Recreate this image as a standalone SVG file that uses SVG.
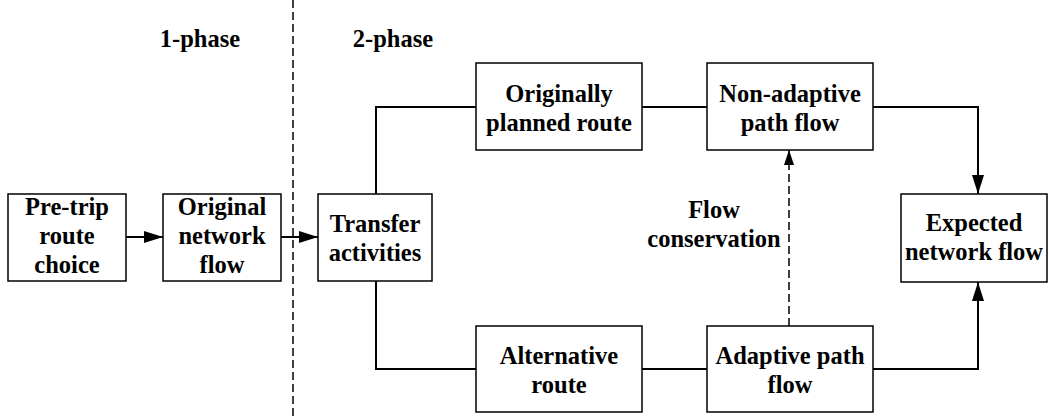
<svg xmlns="http://www.w3.org/2000/svg" width="1049" height="416" viewBox="0 0 1049 416">
<defs>
<style>
.box{fill:#fff;stroke:#000;stroke-width:1.5}
.t{font-family:"Liberation Serif","Times New Roman",serif;font-weight:bold;font-size:24.5px;text-anchor:middle;fill:#000}
.c{fill:none;stroke:#000;stroke-width:2}
.d{fill:none;stroke:#000;stroke-width:1.5;stroke-dasharray:8,4}
</style>
<marker id="ah" markerUnits="userSpaceOnUse" markerWidth="19" markerHeight="12" viewBox="0 0 19 12" refX="19" refY="6" orient="auto">
<path d="M0,0 L19,6 L0,12 Z" fill="#000"/>
</marker>
<marker id="ahs" markerUnits="userSpaceOnUse" markerWidth="15" markerHeight="10" viewBox="0 0 15 10" refX="15" refY="5" orient="auto">
<path d="M0,0 L15,5 L0,10 Z" fill="#000"/>
</marker>
</defs>
<rect width="1049" height="416" fill="#fff"/>
<line x1="293" y1="0" x2="293" y2="416" class="d"/>
<text x="200" y="47" class="t">1-phase</text>
<text x="393" y="47" class="t">2-phase</text>
<g id="connectors">
<line x1="126" y1="237" x2="163" y2="237" class="c" marker-end="url(#ah)"/>
<line x1="281" y1="237" x2="318" y2="237" class="c" marker-end="url(#ah)"/>
<polyline points="376,194 376,107 476,107" class="c"/>
<polyline points="376,281 376,369 476,369" class="c"/>
<line x1="642" y1="107" x2="707" y2="107" class="c"/>
<line x1="642" y1="369" x2="707" y2="369" class="c"/>
<polyline points="873,107 978,107 978,194" class="c" marker-end="url(#ah)"/>
<polyline points="873,369 978,369 978,282" class="c" marker-end="url(#ah)"/>
<line x1="789" y1="326" x2="789" y2="150" class="d" marker-end="url(#ahs)"/>
<text x="714" y="218" class="t">Flow</text>
<text x="714" y="247" class="t">conservation</text>
</g>
<g id="pretrip">
<rect x="8" y="194" width="118" height="87" class="box"/>
<text x="67" y="215" class="t">Pre-trip</text>
<text x="67" y="244" class="t">route</text>
<text x="67" y="273" class="t">choice</text>
</g>
<g id="original">
<rect x="163" y="194" width="118" height="87" class="box"/>
<text x="222" y="215" class="t">Original</text>
<text x="222" y="244" class="t">network</text>
<text x="222" y="273" class="t">flow</text>
</g>
<g id="transfer">
<rect x="318" y="194" width="114" height="87" class="box"/>
<text x="375" y="232" class="t">Transfer</text>
<text x="375" y="261" class="t">activities</text>
</g>
<g id="planned">
<rect x="476" y="63" width="166" height="87" class="box"/>
<text x="559" y="102" class="t">Originally</text>
<text x="559" y="131" class="t">planned route</text>
</g>
<g id="nonadaptive">
<rect x="707" y="63" width="166" height="87" class="box"/>
<text x="790" y="102" class="t">Non-adaptive</text>
<text x="790" y="131" class="t">path flow</text>
</g>
<g id="alternative">
<rect x="476" y="326" width="166" height="86" class="box"/>
<text x="559" y="364" class="t">Alternative</text>
<text x="559" y="393" class="t">route</text>
</g>
<g id="adaptive">
<rect x="707" y="326" width="166" height="86" class="box"/>
<text x="790" y="364" class="t">Adaptive path</text>
<text x="790" y="393" class="t">flow</text>
</g>
<g id="expected">
<rect x="901" y="194" width="146" height="88" class="box"/>
<text x="974" y="231" class="t">Expected</text>
<text x="974" y="260" class="t">network flow</text>
</g>
</svg>
